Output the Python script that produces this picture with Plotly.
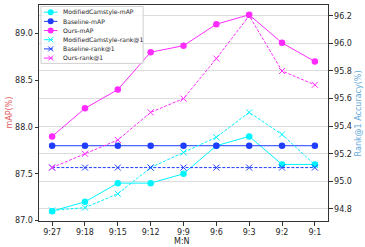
import plotly.graph_objects as go

categories = ["9:27", "9:18", "9:15", "9:12", "9:9", "9:6", "9:3", "9:2", "9:1"]

modcam_map = [87.1, 87.2, 87.4, 87.4, 87.5, 87.8, 87.9, 87.6, 87.6]
baseline_map = [87.8, 87.8, 87.8, 87.8, 87.8, 87.8, 87.8, 87.8, 87.8]
ours_map = [87.9, 88.2, 88.4, 88.8, 88.87, 89.1, 89.2, 88.9, 88.7]

modcam_r1 = [94.79, 94.81, 94.91, 95.1, 95.21, 95.32, 95.5, 95.34, 95.12]
baseline_r1 = [95.1, 95.1, 95.1, 95.1, 95.1, 95.1, 95.1, 95.1, 95.1]
ours_r1 = [95.1, 95.2, 95.3, 95.5, 95.6, 95.89, 96.2, 95.8, 95.7]

left_ticks = [87.0, 87.5, 88.0, 88.5, 89.0]
right_ticks = [94.8, 95.0, 95.2, 95.4, 95.6, 95.8, 96.0, 96.2]

CYAN = "#00f5ff"
BLUE = "#1f3cff"
MAG = "#ff2bff"

series = [
    ("ModifiedCamstyle-mAP", modcam_map, CYAN, "circle", "solid", "y"),
    ("Baseline-mAP", baseline_map, BLUE, "circle", "solid", "y"),
    ("Ours-mAP", ours_map, MAG, "circle", "solid", "y"),
    ("ModifiedCamstyle-rank@1", modcam_r1, CYAN, "x-thin-open", "3px,1.6px", "y2"),
    ("Baseline-rank@1", baseline_r1, BLUE, "x-thin-open", "3px,1.6px", "y2"),
    ("Ours-rank@1", ours_r1, MAG, "x-thin-open", "3px,1.6px", "y2"),
]

fig = go.Figure()
x_idx = list(range(len(categories)))
for name, vals, col, sym, dash, ax in series:
    is_circle = sym == "circle"
    fig.add_trace(go.Scatter(
        x=x_idx, y=vals, name=name, yaxis=ax, mode="lines+markers",
        line=dict(color=col, width=1, dash=dash),
        marker=dict(symbol=sym, size=6.5 if is_circle else 6, color=col,
                    line=dict(color=col, width=1 if not is_circle else 0)),
        showlegend=False,
    ))

FONT = "DejaVu Sans"
TXT = "#262626"

W, H = 365, 247
L, R, T, B = 38.5, 328.5, 5, 221.5
pw, ph = R - L, B - T

def px(xp):
    return (xp - L) / pw

def py(yp):
    return 1 - (yp - T) / ph

shapes = []
annotations = []
shapes.append(dict(type="rect", xref="paper", yref="paper",
                   x0=px(40.5), x1=px(143), y0=py(6.5), y1=py(63.5),
                   line=dict(color="#d0d0d0", width=1), fillcolor="rgba(255,255,255,0.8)",
                   layer="above"))
row0, drow = 12.2, 9.2
for i, (name, vals, col, sym, dash, ax) in enumerate(series):
    yy = row0 + i * drow
    shapes.append(dict(type="line", xref="paper", yref="paper",
                       x0=px(43.5), x1=px(57), y0=py(yy), y1=py(yy),
                       line=dict(color=col, width=1, dash="solid" if dash == "solid" else "dash"),
                       layer="above"))
    if sym == "circle":
        shapes.append(dict(type="circle", xref="paper", yref="paper",
                           xsizemode="pixel", ysizemode="pixel",
                           xanchor=px(50.2), yanchor=py(yy),
                           x0=-3, x1=3, y0=-3, y1=3,
                           fillcolor=col, line=dict(width=0), layer="above"))
    else:
        for a, b in ((-2.5, 2.5), (2.5, -2.5)):
            shapes.append(dict(type="line", xref="paper", yref="paper",
                               xsizemode="pixel", ysizemode="pixel",
                               xanchor=px(50.2), yanchor=py(yy),
                               x0=-2.5, x1=2.5, y0=a, y1=b,
                               line=dict(color=col, width=1), layer="above"))
    annotations.append(dict(xref="paper", yref="paper", x=px(60.5), y=py(yy),
                            text=name, showarrow=False, xanchor="left", yanchor="middle",
                            font=dict(family=FONT, size=6.1, color=TXT)))

# axis titles
annotations.append(dict(xref="paper", yref="paper", x=px(182), y=py(242.5),
                        text="M:N", showarrow=False, xanchor="center", yanchor="middle",
                        font=dict(family=FONT, size=8, color=TXT)))
annotations.append(dict(xref="paper", yref="paper", x=px(8), y=0.5,
                        text="mAP(%)", showarrow=False, textangle=-90,
                        xanchor="center", yanchor="middle",
                        font=dict(family=FONT, size=8, color="#e05a5a")))
annotations.append(dict(xref="paper", yref="paper", x=px(359), y=0.5,
                        text="Rank@1 Accuracy(%)", showarrow=False, textangle=-90,
                        xanchor="center", yanchor="middle",
                        font=dict(family=FONT, size=8, color="#5fa8d8")))

fig.update_layout(
    width=W, height=H,
    margin=dict(l=L, r=W - R, t=T, b=H - B, pad=0, autoexpand=False),
    paper_bgcolor="white", plot_bgcolor="white",
    font=dict(family=FONT, size=8, color=TXT),
    shapes=shapes, annotations=annotations,
    xaxis=dict(
        tickmode="array", tickvals=x_idx, ticktext=categories,
        range=[-0.4, 8.4], showgrid=False, zeroline=False, automargin=False,
        showline=True, mirror=True, linecolor="#333333", linewidth=1,
        ticks="outside", ticklen=3.5, tickcolor="#333333",
        tickfont=dict(size=8, family=FONT, color=TXT),
    ),
    yaxis=dict(
        range=[86.995, 89.305], tickmode="array", tickvals=left_ticks,
        ticktext=[f"{v:.1f}" for v in left_ticks],
        showgrid=False, zeroline=False, automargin=False,
        showline=True, linecolor="#333333", linewidth=1,
        ticks="outside", ticklen=3.5, tickcolor="#333333",
        tickfont=dict(size=8, family=FONT, color=TXT),
    ),
    yaxis2=dict(
        range=[94.713, 96.278], overlaying="y", side="right",
        tickmode="array", tickvals=right_ticks,
        ticktext=[f"{v:.1f}" for v in right_ticks],
        showgrid=True, gridcolor="#dcdcdc", gridwidth=1.3, zeroline=False, automargin=False,
        showline=True, linecolor="#333333", linewidth=1,
        ticks="outside", ticklen=3.5, tickcolor="#333333",
        tickfont=dict(size=8, family=FONT, color=TXT),
    ),
)

fig.write_html("out.html", config={"displayModeBar": False},
               post_script="document.body.style.margin='0px';document.body.style.overflow='hidden';")
